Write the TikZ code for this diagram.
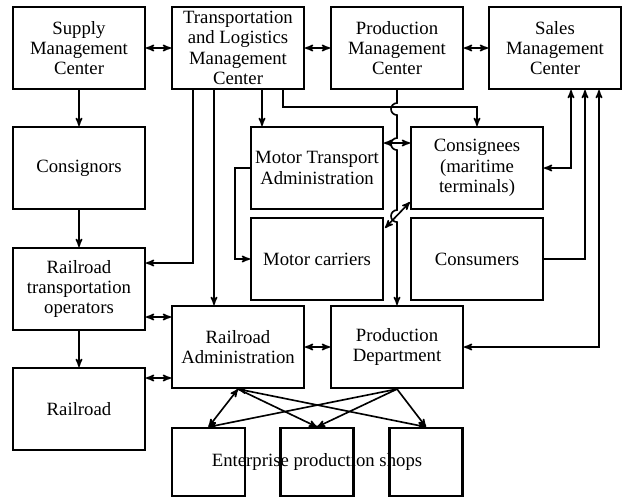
\documentclass[tikz,border=0pt]{standalone}
\usepackage{fontspec}
\setmainfont{Liberation Serif}
\usetikzlibrary{arrows,calc}

\begin{document}
\begin{tikzpicture}[x=0.03cm,y=-0.03cm]
%%%%%%%%%%%%%%%%%%%%%%%%%%%%%%%%%%%%%%%%%%%%%%%%%%%%%%%%
% STYLE
\tikzstyle{case}=[rectangle,draw,line width=1.8pt,minimum width=3.96cm,minimum height=2.46cm,align=center,font=\fontsize{16}{17.3}\selectfont]
\tikzstyle{shop}=[rectangle,draw,line width=1.8pt,minimum width=2.19cm,minimum height=2.04cm]
\tikzstyle{txt}=[font=\fontsize{16}{17.3}\selectfont]

\tikzset{link/.style={->,>=stealth',line width=1.4pt}}
\tikzset{dlink/.style={<->,>=stealth',line width=1.4pt}}

\useasboundingbox (0,0) rectangle (622,497);

%%%%%%%%%%%%%%%%%%%%%%%%%%%%%%%%%%%%%%%%%%%%%%%%%%%%%%%%
% NODES
\node[case] (SupC) at (79, 48) {Supply\\Management\\Center};
\node[case] (TlmC) at (238, 48) {Transportation\\and Logistics\\Management\\Center};
\node[case] (PrmC) at (397, 48) {Production\\Management\\Center};
\node[case] (SalC) at (555, 48) {Sales\\Management\\Center};

\node[case] (Cnor) at (79, 168) {Consignors};
\node[case] (MtAd) at (317, 168) {Motor Transport\\Administration};
\node[case] (Cnee) at (477, 168) {Consignees\\(maritime\\terminals)};

\node[case] (RtOp) at (79, 289) {Railroad\\transportation\\operators};
\node[case] (MoCa) at (317, 259) {Motor carriers};
\node[case] (Cons) at (477, 259) {Consumers};

\node[case] (RaAd) at (238, 347) {Railroad\\Administration};
\node[case] (PrDp) at (397, 347) {Production\\Department};
\node[case] (Rail) at (79, 409) {Railroad};

\node[shop] (S1) at (208.5, 462) {};
\node[shop] (S2) at (317, 462) {};
\node[shop] (S3) at (426, 462) {};
\node[txt] (Shops) at (317, 462) {Enterprise production shops};

%%%%%%%%%%%%%%%%%%%%%%%%%%%%%%%%%%%%%%%%%%%%%%%%%%%%%%%%
% LINKS
\draw[dlink] (SupC) -- (TlmC);
\draw[dlink] (TlmC) -- (PrmC);
\draw[dlink] (PrmC) -- (SalC);

\draw[link] (SupC) -- (Cnor);
\draw[link] (Cnor) -- (RtOp);
\draw[link] (RtOp) -- (Rail);

\draw[dlink] ($(RtOp.east)+(0,28)$) -- ($(RaAd.west)+(0,-30)$);
\draw[dlink] ($(Rail.east)+(0,-31)$) -- ($(RaAd.west)+(0,31)$);
\draw[dlink] (RaAd) -- (PrDp);

\draw[link] ($(TlmC.south)+(-45,0)$) |- ($(RtOp.east)+(0,-26)$);
\draw[link] ($(TlmC.south)+(-24,0)$) -- ($(RaAd.north)+(-24,0)$);
\draw[link] ($(TlmC.south)+(24,0)$) -- ($(MtAd.north)+(-55,0)$);
\draw[link] ($(TlmC.south)+(45,0)$) |- ($(Cnee.north)+(0,-19)$) -- (Cnee.north);

\draw[link] (PrmC.south) -- ($(PrmC.south)+(0,13)$)
  arc[start angle=270,end angle=90,radius=6] -- ($(PrmC.south)+(0,48)$)
  arc[start angle=270,end angle=90,radius=6] -- ($(PrmC.south)+(0,120)$)
  arc[start angle=270,end angle=90,radius=6] -- (PrDp.north);

\draw[dlink] ($(MtAd.east)+(0,-25)$) -- ($(Cnee.west)+(0,-25)$);
\draw[dlink] (Cnee.east) -| ($(SalC.south)+(16,0)$);
\draw[link] (Cons.east) -| ($(SalC.south)+(30,0)$);
\draw[dlink] (PrDp.east) -| ($(SalC.south)+(44,0)$);

\draw[link] (MtAd.west) -- ++(-15,0) |- (MoCa.west);
\draw[dlink] ($(MoCa.north east)+(1,11)$) -- ($(Cnee.south west)+(0,-8)$);

\draw[dlink] (RaAd.south) -- (S1.north);
\draw[link] (RaAd.south) -- (S2.north);
\draw[dlink] (RaAd.south) -- (S3.north);
\draw[link] (PrDp.south) -- (S1.north);
\draw[link] (PrDp.south) -- (S2.north);
\draw[link] (PrDp.south) -- (S3.north);

\end{tikzpicture}
\end{document}
